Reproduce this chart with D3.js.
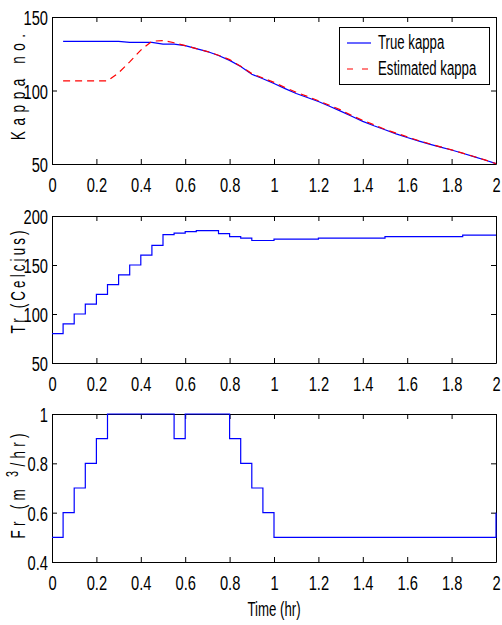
<!DOCTYPE html>
<html><head><meta charset="utf-8">
<script src="https://cdn.jsdelivr.net/npm/d3@7"></script>
<style>body{margin:0;background:#fff}svg{display:block}</style>
</head><body>
<svg id="c" width="502" height="625"></svg>
<script>
// ---------- data ----------
const kappaTime = [0.05,0.1,0.15,0.2,0.25,0.3,0.35,0.4,0.45,0.5,0.55,0.6,0.65,0.7,0.75,0.8,0.85,0.9,0.95,1.0,
  1.05,1.1,1.15,1.2,1.25,1.3,1.35,1.4,1.45,1.5,1.55,1.6,1.65,1.7,1.75,1.8,1.85,1.9,1.95,2.0];
const trueKappa = [133.4,133.4,133.4,133.4,133.4,133.4,132.7,132.7,132.7,131.6,131.6,130.5,128.5,126.5,123.8,120.5,116.3,111,108,104.8,
  101.3,98,95.2,92.5,89.3,86,82.5,79,76,73.3,70.5,68,65.7,63.5,61.5,59.5,57.3,55,52.7,50.3];
const estKappa = [106.5,106.5,106.5,106.5,106.5,112,119.5,127.5,133.5,134,132.5,130.5,128.5,126.5,124,121,116.5,111.5,108.5,105.5,
  102,98.8,96,93,90,86.8,83,79.7,76.7,73.6,71,68.5,66,63.8,61.7,59.6,57.4,55.1,52.8,50.3];
const trTime  = [0,0.05,0.1,0.15,0.2,0.25,0.3,0.35,0.4,0.45,0.5,0.55,0.6,0.65,0.7,0.75,0.8,0.85,0.9,1.0,1.2,1.5,1.85,2.0];
const trValue = [80,90,100,110,120,130,140,150,160,170,181,182.5,184,185,185,182,179,177.5,175,176.5,177.5,179,180.5,180.5];
const frTime  = [0,0.05,0.1,0.15,0.2,0.25,0.55,0.6,0.8,0.85,0.9,0.95,1.0,2.0];
const frValue = [0.5,0.6,0.7,0.8,0.9,1,0.9,1,0.9,0.8,0.7,0.6,0.5,0.6];
const xTicks = [0,0.2,0.4,0.6,0.8,1,1.2,1.4,1.6,1.8,2];
const kappaTicks = [50,100,150];
const trTicks = [50,100,150,200];
const frTicks = [0.4,0.6,0.8,1];
const legendLabels = ["True kappa","Estimated kappa"];

// ---------- layout ----------
const svg = d3.select("#c");
const FONT = "'Liberation Sans', Arial, sans-serif";
const X0 = 52, X1 = 496;
const x = d3.scaleLinear().domain([0,2]).range([X0,X1]);
const TS = 0.7;   // horizontal compression for tick labels
const LS = 0.64;  // horizontal compression for titles

function panel(top, bottom, domain, yTicks, title, titleLen, titleCy) {
  const y = d3.scaleLinear().domain(domain).range([bottom, top]);
  const fmt = d3.format("~g");
  const gb = svg.append("g").attr("transform",`translate(0,${bottom})`)
    .call(d3.axisBottom(x).tickValues(xTicks).tickSize(-5).tickSizeOuter(0).tickFormat(fmt));
  gb.selectAll(".tick text").attr("y",13).attr("dy","0.71em")
    .attr("transform",`scale(${TS},1)`);
  svg.append("g").attr("transform",`translate(0,${top})`)
    .call(d3.axisTop(x).tickValues(xTicks).tickSize(-5).tickSizeOuter(0).tickFormat(""));
  const gl = svg.append("g").attr("transform",`translate(${X0},0)`)
    .call(d3.axisLeft(y).tickValues(yTicks).tickSize(-5).tickSizeOuter(0).tickFormat(fmt));
  gl.selectAll(".tick text").attr("x",-4/TS).attr("dy","0.36em")
    .attr("transform",`scale(${TS},1)`);
  svg.append("g").attr("transform",`translate(${X1},0)`)
    .call(d3.axisRight(y).tickValues(yTicks).tickSize(-5).tickSizeOuter(0).tickFormat(""));
  svg.selectAll("g .tick text").attr("font-size",21).attr("font-family",FONT).attr("fill","#000");
  svg.selectAll("g .domain, g .tick line").attr("stroke","#000").attr("stroke-width",1);
  const t = svg.append("text")
    .attr("transform",`translate(25,${titleCy}) rotate(-90) scale(${LS},1)`)
    .attr("text-anchor","middle").attr("font-family",FONT).attr("font-size",21)
    .attr("textLength", titleLen/LS).attr("lengthAdjust","spacing");
  title(t);
  return y;
}

const y1 = panel(17,164,[50,150],kappaTicks, t=>t.text("Kappa no."), 106, 87);
const y2 = panel(216,363,[50,200],trTicks, t=>t.text("Tr  (Celcius)"), 103, 282);
const y3 = panel(414,562,[0.4,1],frTicks, t=>{
  t.append("tspan").text("Fr  (m ");
  t.append("tspan").attr("dy",-7).attr("font-size",17).text("3");
  t.append("tspan").attr("dy",7).text("/hr)");
}, 105, 486);

// ---------- lines ----------
const lineK = (vals) => d3.line().x((d,i)=>x(kappaTime[i])).y(d=>y1(d))(vals);
svg.append("path").attr("d", lineK(trueKappa)).attr("fill","none").attr("stroke","#0000ff").attr("stroke-width",1.2);
svg.append("path").attr("d", lineK(estKappa)).attr("fill","none").attr("stroke","#ff0000").attr("stroke-width",1.2)
  .attr("stroke-dasharray","7,5");

svg.append("path")
  .attr("d", d3.line().curve(d3.curveStepAfter).x((d,i)=>x(trTime[i])).y(d=>y2(d))(trValue))
  .attr("fill","none").attr("stroke","#0000ff").attr("stroke-width",1.2);
svg.append("path")
  .attr("d", d3.line().curve(d3.curveStepAfter).x((d,i)=>x(frTime[i])).y(d=>y3(d))(frValue))
  .attr("fill","none").attr("stroke","#0000ff").attr("stroke-width",1.2);

// ---------- legend ----------
const lg = svg.append("g");
lg.append("rect").attr("x",339.5).attr("y",27.5).attr("width",150).attr("height",57)
  .attr("fill","#fff").attr("stroke","#000").attr("stroke-width",1);
const legStyles = [{c:"#0000ff",d:null,y:43},{c:"#ff0000",d:"6,9",y:69}];
legendLabels.forEach((lab,i)=>{
  const s = legStyles[i];
  lg.append("line").attr("x1",347).attr("x2",371).attr("y1",s.y).attr("y2",s.y)
    .attr("stroke",s.c).attr("stroke-width",1.2).attr("stroke-dasharray",s.d);
  lg.append("text").attr("transform",`translate(378,${s.y+6}) scale(0.66,1)`)
    .attr("font-family",FONT).attr("font-size",20).text(lab);
});

// ---------- x title ----------
svg.append("text").attr("transform",`translate(274,616) scale(0.63,1)`)
  .attr("text-anchor","middle").attr("font-family",FONT).attr("font-size",21)
  .text("Time  (hr)");
</script>
</body></html>
